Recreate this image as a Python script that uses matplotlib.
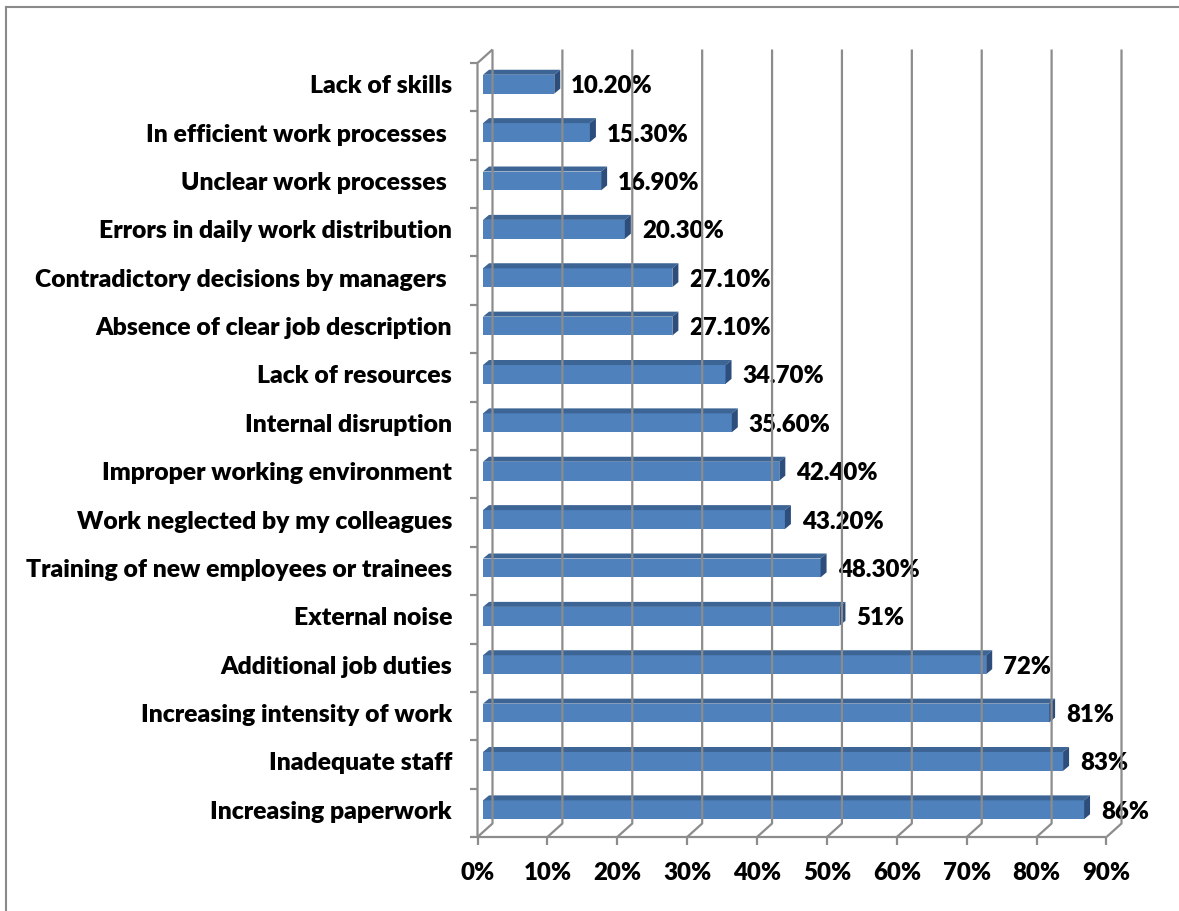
import matplotlib.pyplot as plt
import matplotlib.transforms as mtransforms
from matplotlib.patches import Polygon
from matplotlib.lines import Line2D

# data (top of chart first)
categories = [
    'Lack of skills',
    'In efficient work processes ',
    'Unclear work processes ',
    'Errors in daily work distribution',
    'Contradictory decisions by managers ',
    'Absence of clear job description',
    'Lack of resources',
    'Internal disruption',
    'Improper working environment',
    'Work neglected by my colleagues',
    'Training of new employees or trainees',
    'External noise',
    'Additional job duties',
    'Increasing intensity of work',
    'Inadequate staff',
    'Increasing paperwork',
]
values = [0.102, 0.153, 0.169, 0.203, 0.271, 0.271, 0.347, 0.356,
          0.424, 0.432, 0.483, 0.51, 0.72, 0.81, 0.83, 0.86]
value_labels = ['10.20%', '15.30%', '16.90%', '20.30%', '27.10%', '27.10%',
                '34.70%', '35.60%', '42.40%', '43.20%', '48.30%', '51%',
                '72%', '81%', '83%', '86%']
xticks = [0, 0.1, 0.2, 0.3, 0.4, 0.5, 0.6, 0.7, 0.8, 0.9]
xtick_labels = ['0%', '10%', '20%', '30%', '40%', '50%', '60%', '70%', '80%', '90%']

FONT = 'Lato'
FS_CAT = 17.8
FS_VAL = 17.3
WEIGHT = 'heavy'
front_col = '#4F81BD'
top_col = '#3C6595'
side_col = '#2D4E7D'
grid_col = '#8C8C8C'

fig = plt.figure(figsize=(11.79, 9.11), dpi=100)
fig.patch.set_facecolor('white')
ax = fig.add_axes([0.40967, 0.08452, 0.5335, 0.84962])
n = len(categories)
ypos = list(range(n - 1, -1, -1))
ax.set_xlim(0, 0.9)
ax.set_ylim(-0.5, n - 0.5)
ax.axis('off')

ident = mtransforms.IdentityTransform()
FRONT = (-5.5, -3.0)   # pixel offset of front plane
BACK = (9.5, 10.5)     # pixel offset of back wall
DEPTH = (6.0, 5.0)     # bar depth


def px(x, y, off=(0, 0)):
    a, b = ax.transData.transform((x, y))
    return a + off[0], b + off[1]


def line(pts, **kw):
    xs = [p[0] for p in pts]
    ys = [p[1] for p in pts]
    fig.add_artist(Line2D(xs, ys, transform=ident, color=grid_col,
                          lw=1.6, solid_capstyle='butt', **kw))


y0, y1 = -0.5, n - 0.5

# back gridlines + floor diagonals + x ticks
for t in xticks:
    line([px(t, y1, BACK), px(t, y0, BACK), px(t, y0, FRONT)])
    fx, fy = px(t, y0, FRONT)
    line([(fx, fy), (fx, fy - 8)])

# floor front edge and left wall
line([px(0, y0, FRONT), px(0.9, y0, FRONT)])
line([px(0, y0, FRONT), px(0, y1, FRONT), px(0, y1, BACK)])
for k in range(n + 1):
    fx, fy = px(0, k - 0.5, FRONT)
    line([(fx - 8, fy), (fx, fy)])

# bars
h = 0.39
for yp, v in zip(ypos, values):
    ax.barh(yp, v, height=h, left=0, color=front_col, edgecolor='none', zorder=3)
    tl = px(0, yp + h / 2)
    tr = px(v, yp + h / 2)
    br = px(v, yp - h / 2)
    top = [tl, tr, (tr[0] + DEPTH[0], tr[1] + DEPTH[1]),
           (tl[0] + DEPTH[0], tl[1] + DEPTH[1])]
    side = [br, tr, (tr[0] + DEPTH[0], tr[1] + DEPTH[1]),
            (br[0] + DEPTH[0], br[1] + DEPTH[1])]
    fig.add_artist(Polygon(top, closed=True, transform=ident, fc=top_col, ec='none'))
    fig.add_artist(Polygon(side, closed=True, transform=ident, fc=side_col, ec='none'))

# text
for yp, v, lab, cat in zip(ypos, values, value_labels, categories):
    ax.annotate(lab, (v, yp), xytext=(17, -2), textcoords='offset pixels',
                ha='left', va='center', fontsize=FS_VAL, fontweight=WEIGHT,
                family=FONT, color='black')
    ax.annotate(cat, (0, yp), xytext=(-31, -2), textcoords='offset pixels',
                ha='right', va='center', fontsize=FS_CAT, fontweight=WEIGHT,
                family=FONT, color='black')

for t, lab in zip(xticks, xtick_labels):
    fx, fy = px(t, y0, FRONT)
    fig.text(fx, fy - 36, lab, transform=ident, ha='center', va='center',
             fontsize=FS_VAL, fontweight=WEIGHT, family=FONT)

# outer chart border (top and left only visible)
fig.add_artist(Line2D([5.5, 1179], [904, 904], transform=ident, color='#8A8A8A', lw=1.5))
fig.add_artist(Line2D([5.5, 5.5], [0, 904], transform=ident, color='#8A8A8A', lw=1.5))

fig.savefig('out.png', dpi=100)
